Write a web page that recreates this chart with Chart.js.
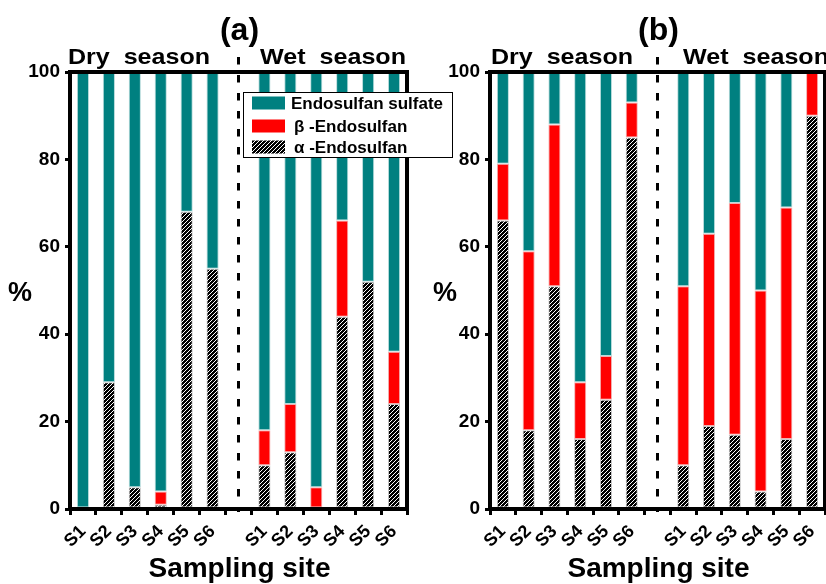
<!DOCTYPE html>
<html>
<head>
<meta charset="utf-8">
<script src="https://cdn.jsdelivr.net/npm/chart.js@4.4.1/dist/chart.umd.min.js"></script>
<style>
  html, body { margin: 0; padding: 0; background: #fff; }
  #wrap { position: relative; width: 826px; height: 584px; overflow: hidden; }
  canvas { position: absolute; top: 0; }
  #chartA { left: 0; }
  #chartB { left: 410px; }
</style>
</head>
<body>
<div id="wrap">
  <canvas id="chartA" width="460" height="584"></canvas>
  <canvas id="chartB" width="416" height="584"></canvas>
</div>
<script>
// sampling sites, dry season | gap | wet season
const siteLabels = ['S1', 'S2', 'S3', 'S4', 'S5', 'S6', '', 'S1', 'S2', 'S3', 'S4', 'S5', 'S6'];
const yTicks = [0, 20, 40, 60, 80, 100];
const seriesNames = ['α -Endosulfan', 'β -Endosulfan', 'Endosulfan sulfate'];

// panel (a), percent
const alphaA   = [0, 29, 5, 1, 68, 55, null, 10, 13, 0, 44, 52, 24];
const betaA    = [0, 0, 0, 3, 0, 0, null, 8, 11, 5, 22, 0, 12];
const sulfateA = [100, 71, 95, 96, 32, 45, null, 82, 76, 95, 34, 48, 64];

// panel (b), percent
const alphaB   = [66, 18, 51, 16, 25, 85, null, 10, 19, 17, 4, 16, 90];
const betaB    = [13, 41, 37, 13, 10, 8, null, 41, 44, 53, 46, 53, 10];
const sulfateB = [21, 41, 12, 71, 65, 7, null, 49, 37, 30, 50, 31, 0];

const TEAL = '#008080';
const RED = '#ff0000';
const FONT = '"Liberation Sans", Arial, Helvetica, sans-serif';

// hatch fill for alpha
function makeHatch() {
  const c = document.createElement('canvas');
  c.width = 4; c.height = 4;
  const g = c.getContext('2d');
  g.fillStyle = '#000';
  g.fillRect(0, 0, 4, 4);
  g.strokeStyle = '#fff';
  g.lineWidth = 1;
  g.beginPath();
  g.moveTo(0, 4); g.lineTo(4, 0);
  g.moveTo(-1, 1); g.lineTo(1, -1);
  g.moveTo(3, 5); g.lineTo(5, 3);
  g.stroke();
  return c;
}
const hatch = document.createElement('canvas').getContext('2d').createPattern(makeHatch(), 'repeat');

// draw text stretched to a given width
function fitText(ctx, text, x, y, width) {
  const w = ctx.measureText(text).width;
  ctx.save();
  ctx.translate(x, y);
  ctx.scale(width / w, 1);
  ctx.fillText(text, 0, 0);
  ctx.restore();
}

const decoPlugin = {
  id: 'deco',
  afterDraw(chart, args, opts) {
    const ctx = chart.ctx;
    const a = chart.chartArea;
    const xs = chart.scales.x;
    const cx = (a.left + a.right) / 2;

    // frame
    ctx.save();
    ctx.strokeStyle = '#000';
    ctx.lineWidth = 4;
    ctx.strokeRect(a.left, a.top, a.right - a.left, a.bottom - a.top);

    // dashed season divider
    const xm = xs.getPixelForValue(6);
    ctx.lineWidth = 3;
    ctx.setLineDash([7.5, 10.5]);
    ctx.beginPath();
    ctx.moveTo(xm, 57);
    ctx.lineTo(xm, 512);
    ctx.stroke();
    ctx.setLineDash([]);

    ctx.fillStyle = '#000';
    ctx.textBaseline = 'alphabetic';

    // panel letter
    ctx.font = 'bold 32px ' + FONT;
    ctx.textAlign = 'center';
    ctx.fillText(opts.letter, cx + 1, 40);

    // axis titles
    ctx.font = 'bold 28px ' + FONT;
    ctx.fillText('Sampling site', cx + 1, 577);
    ctx.font = 'bold 27px ' + FONT;
    ctx.fillText('%', opts.pctX, 301);

    // season labels
    ctx.textAlign = 'left';
    ctx.font = 'bold 22px ' + FONT;
    fitText(ctx, 'Dry  season', opts.dryX, 64, 142);
    fitText(ctx, 'Wet  season', opts.wetX, 64, 146);

    // legend
    if (opts.legend) {
      const L = opts.legend;
      ctx.fillStyle = '#fff';
      ctx.fillRect(L.x, L.y, L.w, L.h);
      ctx.lineWidth = 1;
      ctx.strokeStyle = '#000';
      ctx.strokeRect(L.x + 0.5, L.y + 0.5, L.w, L.h);
      const fills = [TEAL, RED, hatch];
      const names = [seriesNames[2], seriesNames[1], seriesNames[0]];
      const rows = [11, 34, 55];
      ctx.font = 'bold 17px ' + FONT;
      ctx.textBaseline = 'middle';
      names.forEach((n, i) => {
        const ry = L.y + rows[i];
        ctx.fillStyle = fills[i];
        ctx.fillRect(L.x + 9, ry - 6.5, 33, 13);
        ctx.fillStyle = '#000';
        ctx.fillText(n, L.x + (i === 0 ? 48 : 51), ry + 1);
      });
    }
    ctx.restore();
  }
};

function makePanel(id, alpha, beta, sulfate, o) {
  const barOpts = {
    barPercentage: 0.47,
    categoryPercentage: 1,
    borderWidth: 1,
    borderSkipped: false
  };
  return new Chart(document.getElementById(id), {
    type: 'bar',
    data: {
      labels: siteLabels,
      datasets: [
        Object.assign({ label: seriesNames[0], data: alpha, backgroundColor: hatch, borderColor: '#c8c8c8' }, barOpts),
        Object.assign({ label: seriesNames[1], data: beta, backgroundColor: RED, borderColor: '#f2b0b0' }, barOpts),
        Object.assign({ label: seriesNames[2], data: sulfate, backgroundColor: TEAL, borderColor: '#b8dcdc' }, barOpts)
      ]
    },
    options: {
      responsive: false,
      animation: false,
      devicePixelRatio: 1,
      layout: { padding: o.padding },
      plugins: {
        legend: { display: false },
        tooltip: { enabled: false },
        deco: o.deco
      },
      scales: {
        x: {
          stacked: true,
          afterFit: s => {
            s.height = 75;
            // rotated labels should not shrink the plot area
            s.paddingLeft = 0;
            s.paddingRight = 0;
          },
          grid: { drawOnChartArea: false, drawTicks: true, tickLength: 6, lineWidth: 3, color: '#000', offset: true },
          border: { display: false },
          ticks: {
            autoSkip: false,
            minRotation: 45,
            maxRotation: 45,
            padding: 6,
            color: '#000',
            font: { family: FONT, size: 18, weight: 'bold' }
          }
        },
        y: {
          stacked: true,
          min: 0,
          max: 100,
          afterFit: s => { s.width = o.yWidth; },
          afterBuildTicks: s => { s.ticks = yTicks.map(v => ({ value: v })); },
          grid: { drawOnChartArea: false, drawTicks: true, tickLength: 5, lineWidth: 3, color: '#000' },
          border: { display: false },
          ticks: {
            padding: 5,
            color: '#000',
            font: { family: FONT, size: 19, weight: 'bold' }
          }
        }
      }
    },
    plugins: [decoPlugin]
  });
}

makePanel('chartA', alphaA, betaA, sulfateA, {
  padding: { left: 4, top: 72, right: 53, bottom: 0 },
  yWidth: 66,
  deco: { letter: '(a)', dryX: 68, wetX: 260, pctX: 20, legend: { x: 243, y: 92, w: 209, h: 65 } }
});

makePanel('chartB', alphaB, betaB, sulfateB, {
  padding: { left: 20, top: 72, right: 1, bottom: 0 },
  yWidth: 60,
  deco: { letter: '(b)', dryX: 81, wetX: 273, pctX: 35, legend: null }
});
</script>
</body>
</html>
